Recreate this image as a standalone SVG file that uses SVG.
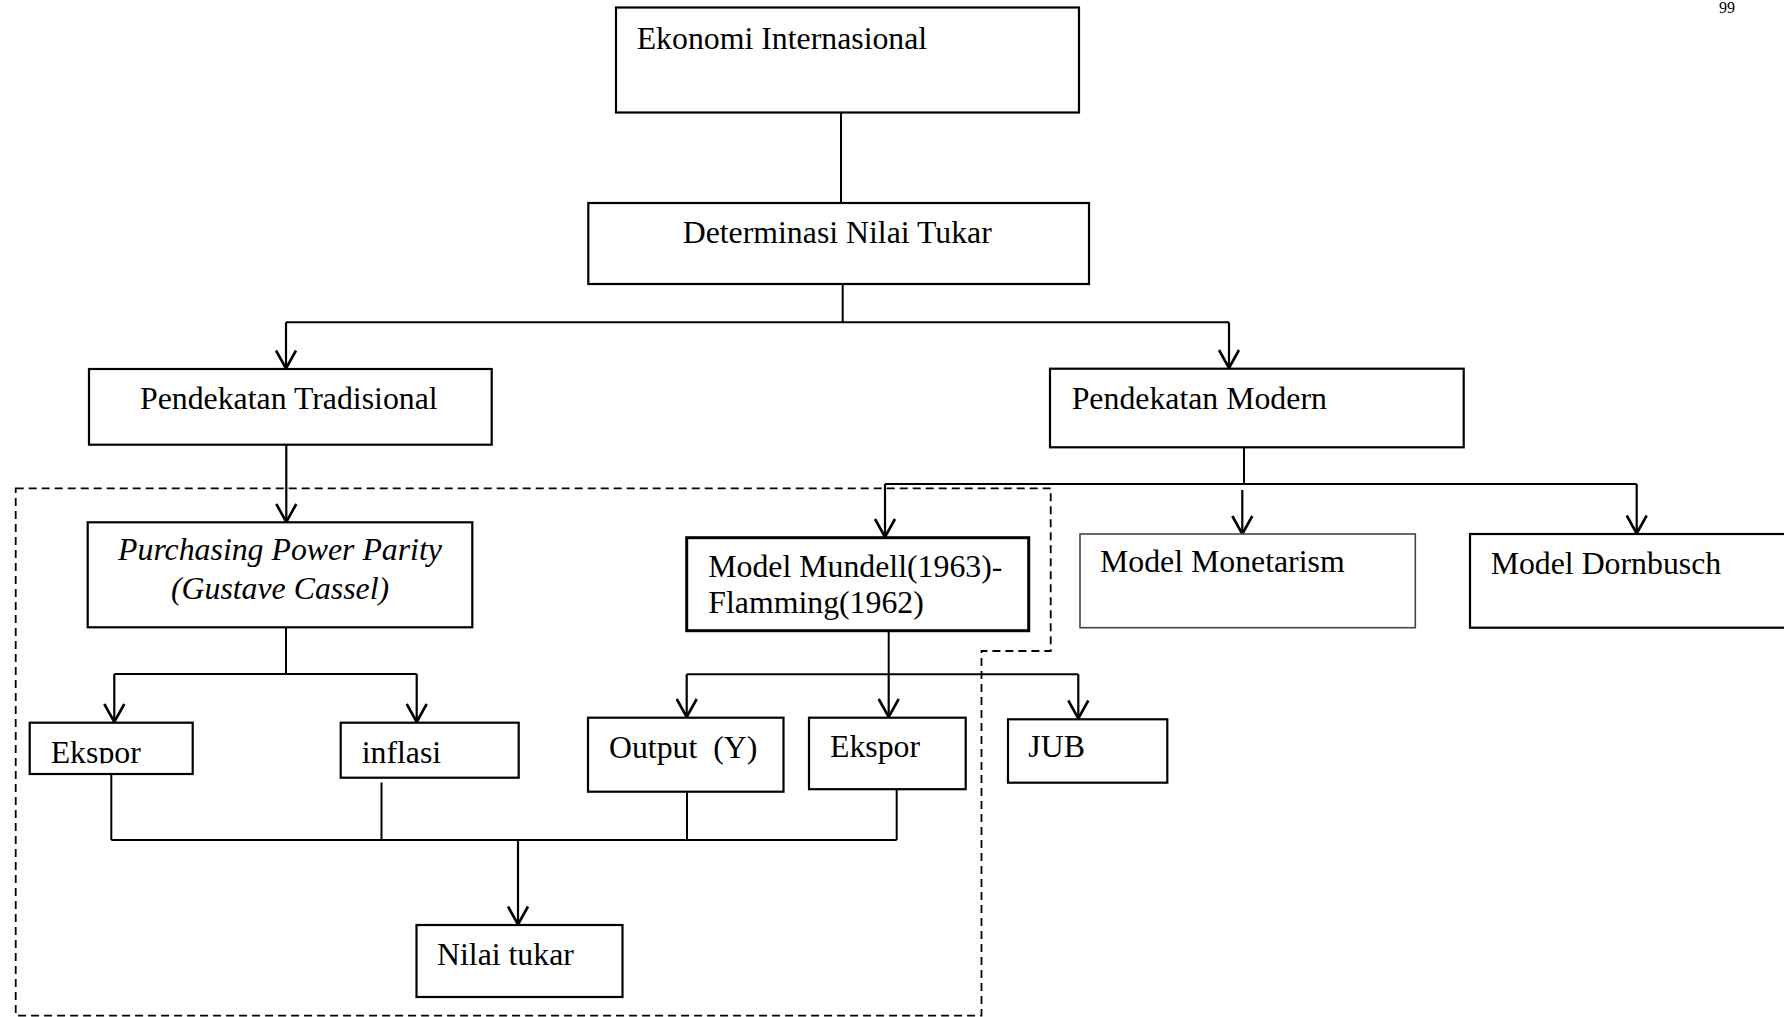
<svg xmlns="http://www.w3.org/2000/svg" width="1784" height="1017" viewBox="0 0 1784 1017">
<defs>
<style>
.box{fill:#fff;stroke:#000;stroke-width:2.2}
.thick{stroke-width:3}
.light{stroke:#444;stroke-width:1.6}
.t{font-family:"Liberation Serif","Times New Roman",serif;font-size:31.8px;fill:#000}
.it{font-style:italic}
.pg{font-family:"Liberation Serif","Times New Roman",serif;font-size:16px;fill:#000}
.c{fill:none;stroke:#000;stroke-width:2}
.a{fill:none;stroke:#000;stroke-width:2.2;marker-end:url(#arr)}
.dash{fill:none;stroke:#000;stroke-width:1.8;stroke-dasharray:8 5}
</style>
<marker id="arr" viewBox="-20 -12 22 24" refX="0" refY="0" markerWidth="22" markerHeight="24" markerUnits="userSpaceOnUse" orient="auto">
<path d="M-18,-10 L0,0 L-18,10" fill="none" stroke="#000" stroke-width="2.6"/>
</marker>
<clipPath id="clipEk"><rect x="30" y="723" width="163" height="40.5"/></clipPath>
</defs>
<rect width="1784" height="1017" fill="#fff"/>
<text class="pg" x="1719" y="13">99</text>

<g id="dashed-region">
<path class="dash" d="M15.7,488.3 L1050.7,488.3 L1050.7,651 L981.5,651 L981.5,1015.7 L15.7,1015.7 Z"/>
</g>

<g id="connectors">
<line class="c" x1="841" y1="113" x2="841" y2="203"/>
<line class="c" x1="842.7" y1="284" x2="842.7" y2="322.3"/>
<line class="c" x1="286" y1="322.3" x2="1229" y2="322.3"/>
<line class="a" x1="286" y1="322.3" x2="286" y2="368.5"/>
<line class="a" x1="1229" y1="322.3" x2="1229" y2="368"/>
<line class="a" x1="286.3" y1="445" x2="286.3" y2="522"/>
<line class="c" x1="1244" y1="447" x2="1244" y2="484"/>
<line class="c" x1="885" y1="484" x2="1636.7" y2="484"/>
<line class="a" x1="885" y1="484" x2="885" y2="537"/>
<line class="a" x1="1242.3" y1="490" x2="1242.3" y2="534"/>
<line class="a" x1="1636.7" y1="484" x2="1636.7" y2="533.5"/>
<line class="c" x1="286" y1="627.5" x2="286" y2="674"/>
<line class="c" x1="114.3" y1="674" x2="416.7" y2="674"/>
<line class="a" x1="114.3" y1="674" x2="114.3" y2="722"/>
<line class="a" x1="416.7" y1="674" x2="416.7" y2="722"/>
<line class="c" x1="888.7" y1="631" x2="888.7" y2="674.3"/>
<line class="c" x1="686.7" y1="674.3" x2="1078.3" y2="674.3"/>
<line class="a" x1="686.7" y1="674.3" x2="686.7" y2="717"/>
<line class="a" x1="888.7" y1="674.3" x2="888.7" y2="717"/>
<line class="a" x1="1078.3" y1="674.3" x2="1078.3" y2="718.5"/>
<line class="c" x1="111.3" y1="774" x2="111.3" y2="840"/>
<line class="c" x1="381.5" y1="782.5" x2="381.5" y2="840"/>
<line class="c" x1="687" y1="792" x2="687" y2="840"/>
<line class="c" x1="896.7" y1="789.5" x2="896.7" y2="840"/>
<line class="c" x1="111.3" y1="840" x2="896.7" y2="840"/>
<line class="a" x1="518" y1="840" x2="518" y2="924.5"/>
</g>

<g id="n-ekonomi">
<rect class="box" x="616" y="7.5" width="463" height="105"/>
<text class="t" x="636.7" y="49.3">Ekonomi Internasional</text>
</g>
<g id="n-determinasi">
<rect class="box" x="588.3" y="203" width="500.7" height="81"/>
<text class="t" x="682.7" y="242.7">Determinasi Nilai Tukar</text>
</g>
<g id="n-tradisional">
<rect class="box" x="89" y="369" width="402.7" height="75.7"/>
<text class="t" x="140" y="409">Pendekatan Tradisional</text>
</g>
<g id="n-modern">
<rect class="box" x="1050" y="368.7" width="413.7" height="78.6"/>
<text class="t" x="1071.7" y="409">Pendekatan Modern</text>
</g>
<g id="n-ppp">
<rect class="box" x="87.7" y="522.3" width="384.6" height="105"/>
<text class="t it" x="280" y="560" text-anchor="middle">Purchasing Power Parity</text>
<text class="t it" x="280" y="599.3" text-anchor="middle">(Gustave Cassel)</text>
</g>
<g id="n-mundell">
<rect class="box thick" x="686.7" y="537.7" width="342" height="93"/>
<text class="t" x="708.3" y="576.7">Model Mundell(1963)-</text>
<text class="t" x="708.3" y="613.3">Flamming(1962)</text>
</g>
<g id="n-monetarism">
<rect class="box light" x="1080" y="534" width="335.3" height="93.7"/>
<text class="t" x="1100" y="572.3">Model Monetarism</text>
</g>
<g id="n-dornbusch">
<rect class="box" x="1470" y="534" width="320" height="93.7"/>
<text class="t" x="1490.7" y="574.3">Model Dornbusch</text>
</g>
<g id="n-ekspor1">
<rect class="box" x="29.7" y="722.7" width="163" height="51.3"/>
<text class="t" x="50.7" y="763" clip-path="url(#clipEk)">Ekspor</text>
</g>
<g id="n-inflasi">
<rect class="box" x="340.7" y="722.7" width="178" height="55"/>
<text class="t" x="361.7" y="762.7">inflasi</text>
</g>
<g id="n-output">
<rect class="box" x="588" y="717.7" width="195.5" height="74"/>
<text class="t" x="609" y="757.7" xml:space="preserve" style="white-space:pre">Output  (Y)</text>
</g>
<g id="n-ekspor2">
<rect class="box" x="809" y="717.7" width="156.7" height="71.5"/>
<text class="t" x="830" y="757.3">Ekspor</text>
</g>
<g id="n-jub">
<rect class="box" x="1008" y="719.3" width="159.3" height="63.4"/>
<text class="t" x="1028.3" y="757.3">JUB</text>
</g>
<g id="n-nilai">
<rect class="box" x="416.5" y="925" width="206" height="72"/>
<text class="t" x="437" y="965">Nilai tukar</text>
</g>
</svg>
